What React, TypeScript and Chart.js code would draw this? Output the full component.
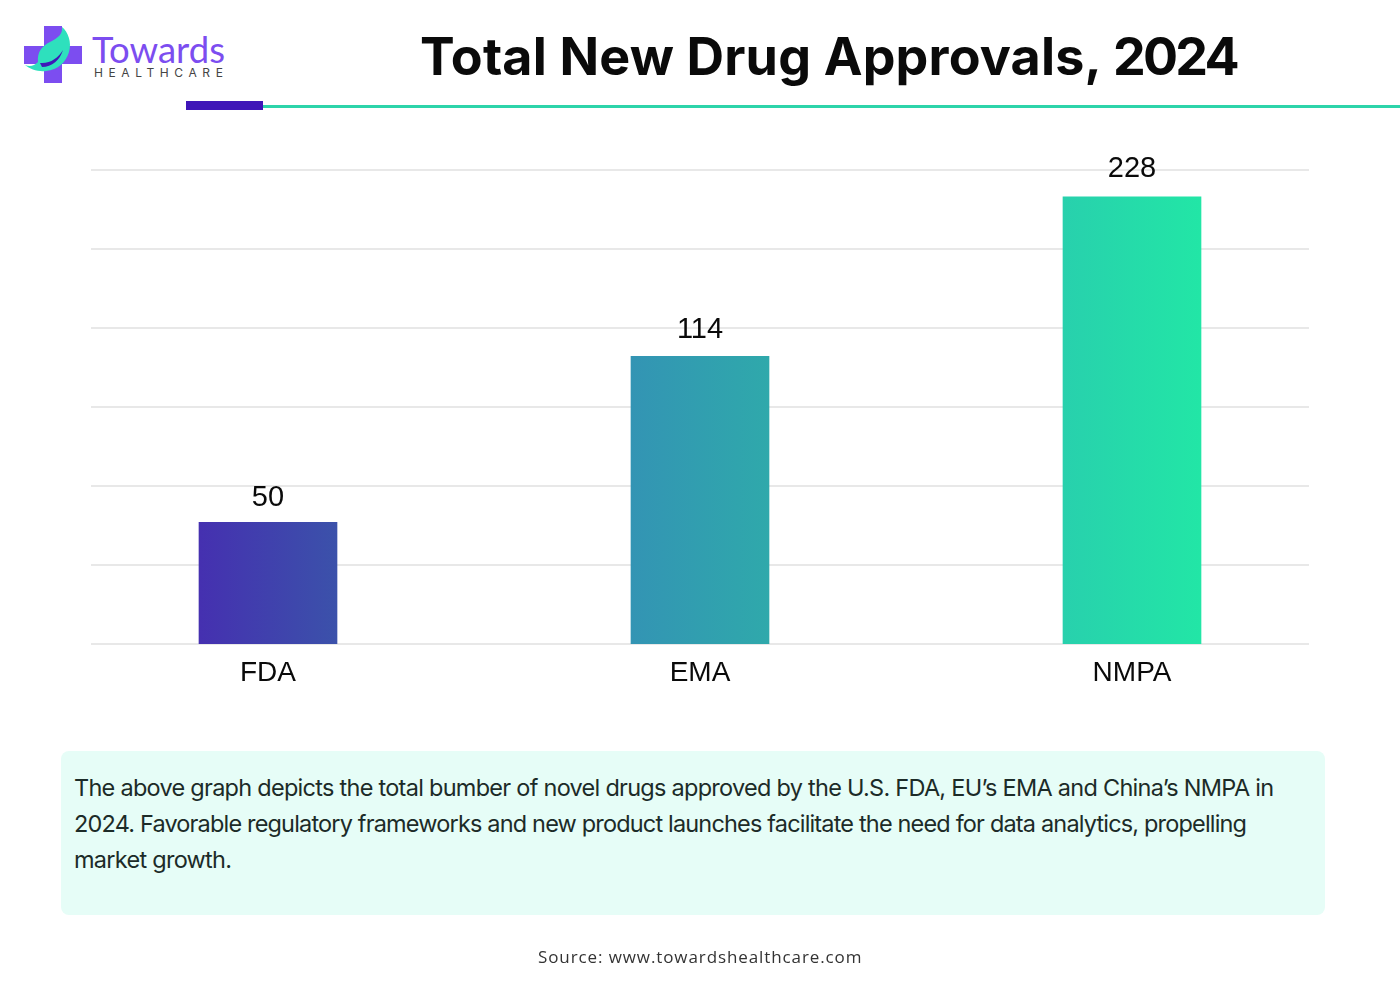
import React, { useEffect, useRef } from 'react';
import { Chart, registerables } from 'chart.js';

Chart.register(...registerables);

const categories = ['FDA', 'EMA', 'NMPA'];
// printed values. the reference bars are not proportional to these numbers,
// so the drawn heights are read off its gridlines separately (grid step = 50)
const valueLabels = ['50', '114', '228'];
const drawnHeights = [77, 182, 283];
const yTicks = [0, 50, 100, 150, 200, 250, 300];
const labelGaps = [24, 26, 28];

const bodyLines = [
  'The above graph depicts the total bumber of novel drugs approved by the U.S. FDA, EU’s EMA and China’s NMPA in',
  '2024. Favorable regulatory frameworks and new product launches facilitate the need for data analytics, propelling',
  'market growth.',
];
const bodySpacing = [-0.73, -0.83, -0.73];

const GRID_LEFT = 91;
const GRID_RIGHT = 1309;

// gridlines stop short of the category band, so they are drawn here from the y scale
const gridPlugin = {
  id: 'insetGrid',
  beforeDatasetsDraw(chart: any) {
    const { ctx, scales } = chart;
    ctx.save();
    ctx.strokeStyle = '#e0e0e0';
    ctx.lineWidth = 1.3;
    scales.y.ticks.forEach((t: any) => {
      const y = scales.y.getPixelForValue(t.value);
      ctx.beginPath();
      ctx.moveTo(GRID_LEFT, y);
      ctx.lineTo(GRID_RIGHT, y);
      ctx.stroke();
    });
    ctx.restore();
  },
};

const valueLabelPlugin = {
  id: 'valueLabels',
  afterDatasetsDraw(chart: any) {
    const { ctx } = chart;
    const meta = chart.getDatasetMeta(0);
    ctx.save();
    ctx.font = '29px "Liberation Sans"';
    ctx.fillStyle = '#0a0a0a';
    ctx.textAlign = 'center';
    ctx.textBaseline = 'middle';
    meta.data.forEach((bar: any, i: number) => {
      ctx.fillText(valueLabels[i], bar.x, bar.y - labelGaps[i]);
    });
    ctx.restore();
  },
};

const abs = (left: number, top: number): React.CSSProperties => ({
  position: 'absolute',
  left,
  top,
  whiteSpace: 'nowrap',
});

const App: React.FC = () => {
  const chartRef = useRef<HTMLCanvasElement | null>(null);

  useEffect(() => {
    if (!chartRef.current) return;
    const ctx = chartRef.current.getContext('2d') as CanvasRenderingContext2D;

    const gradient = ctx.createLinearGradient(199, 0, 1201, 0);
    gradient.addColorStop(0, '#4530b0');
    gradient.addColorStop(0.14, '#3b52aa');
    gradient.addColorStop(0.43, '#3394b4');
    gradient.addColorStop(0.57, '#2fa9ab');
    gradient.addColorStop(0.86, '#28d0ad');
    gradient.addColorStop(1, '#22e6a6');

    const chart = new Chart(ctx, {
      type: 'bar',
      data: {
        labels: categories,
        datasets: [{ data: drawnHeights, backgroundColor: gradient, barThickness: 138 }],
      },
      plugins: [gridPlugin, valueLabelPlugin],
      options: {
        responsive: false,
        animation: false,
        layout: { padding: { left: 52, right: 52, top: 170, bottom: 0 } },
        plugins: { legend: { display: false }, tooltip: { enabled: false } },
        scales: {
          x: {
            grid: { display: false },
            border: { display: false },
            afterFit: (s: any) => {
              s.height = 353;
            },
            ticks: {
              color: '#0a0a0a',
              font: { family: '"Liberation Sans"', size: 28 },
              padding: 4,
              maxRotation: 0,
            },
          },
          y: {
            min: 0,
            max: 300,
            afterBuildTicks: (s: any) => {
              s.ticks = yTicks.map((value) => ({ value }));
            },
            afterFit: (s: any) => {
              s.width = 0;
            },
            grid: { display: false },
            border: { display: false },
            ticks: { display: false },
          },
        },
      },
    });

    return () => {
      chart.destroy();
    };
  }, []);

  return (
    <div style={{ position: 'absolute', left: 0, top: 0, width: 1400, height: 997, background: '#fff', overflow: 'hidden', fontFamily: 'Inter' }}>
      <svg width={90} height={90} style={{ position: 'absolute', left: 0, top: 0 }}>
        <path d="M44 26H62V46H82V64H62V83H44V64H24V46H44Z" fill="#7c4df0" />
        <path d="M38 62C37 52 42 46 50 42C58 38 63 34 62 27C68 32 72 42 69 52C66 62 58 70 46 71C38 72 30 69 25 65C30 67 34 66 38 62Z" fill="#2ee0bd" />
        <path d="M40 63C50 64 58 58 63 50C60 60 52 67 42 67Z" fill="#3f16b8" />
      </svg>
      <div style={{ ...abs(92, 26), fontSize: 36.5, lineHeight: '46px', color: '#7c4df0', fontWeight: 400, fontFamily: 'Lato' }}>Towards</div>
      <div style={{ ...abs(94, 66), fontSize: 12, lineHeight: '14px', color: '#444', letterSpacing: 5.6 }}>HEALTHCARE</div>

      <div style={{ ...abs(420, 24), fontSize: 52, lineHeight: '66px', fontWeight: 700, color: '#0a0a0a', letterSpacing: 0.17 }}>
        Total New Drug Approvals, <span style={{ letterSpacing: -2.7 }}>2024</span>
      </div>
      <div style={{ position: 'absolute', left: 263, right: 0, top: 105, height: 3, background: '#2dd4aa' }} />
      <div style={{ position: 'absolute', left: 186, width: 77, top: 101, height: 9, background: '#3f16b8' }} />

      <canvas ref={chartRef} width={1400} height={997} style={{ position: 'absolute', left: 0, top: 0 }} />

      <div style={{ position: 'absolute', left: 61, top: 751, width: 1264, height: 164, background: '#e6fdf7', borderRadius: 8 }} />
      <div style={{ ...abs(74, 770), fontSize: 23.5, lineHeight: '36px', color: '#1c2b28' }}>
        {bodyLines.map((line, i) => (
          <div key={line} style={{ letterSpacing: bodySpacing[i] }}>{line}</div>
        ))}
      </div>
      <div style={{ ...abs(538, 946), fontSize: 17, lineHeight: '22px', color: '#333', fontFamily: 'Open Sans', letterSpacing: 0.9 }}>Source: www.towardshealthcare.com</div>
    </div>
  );
};

export default App;
